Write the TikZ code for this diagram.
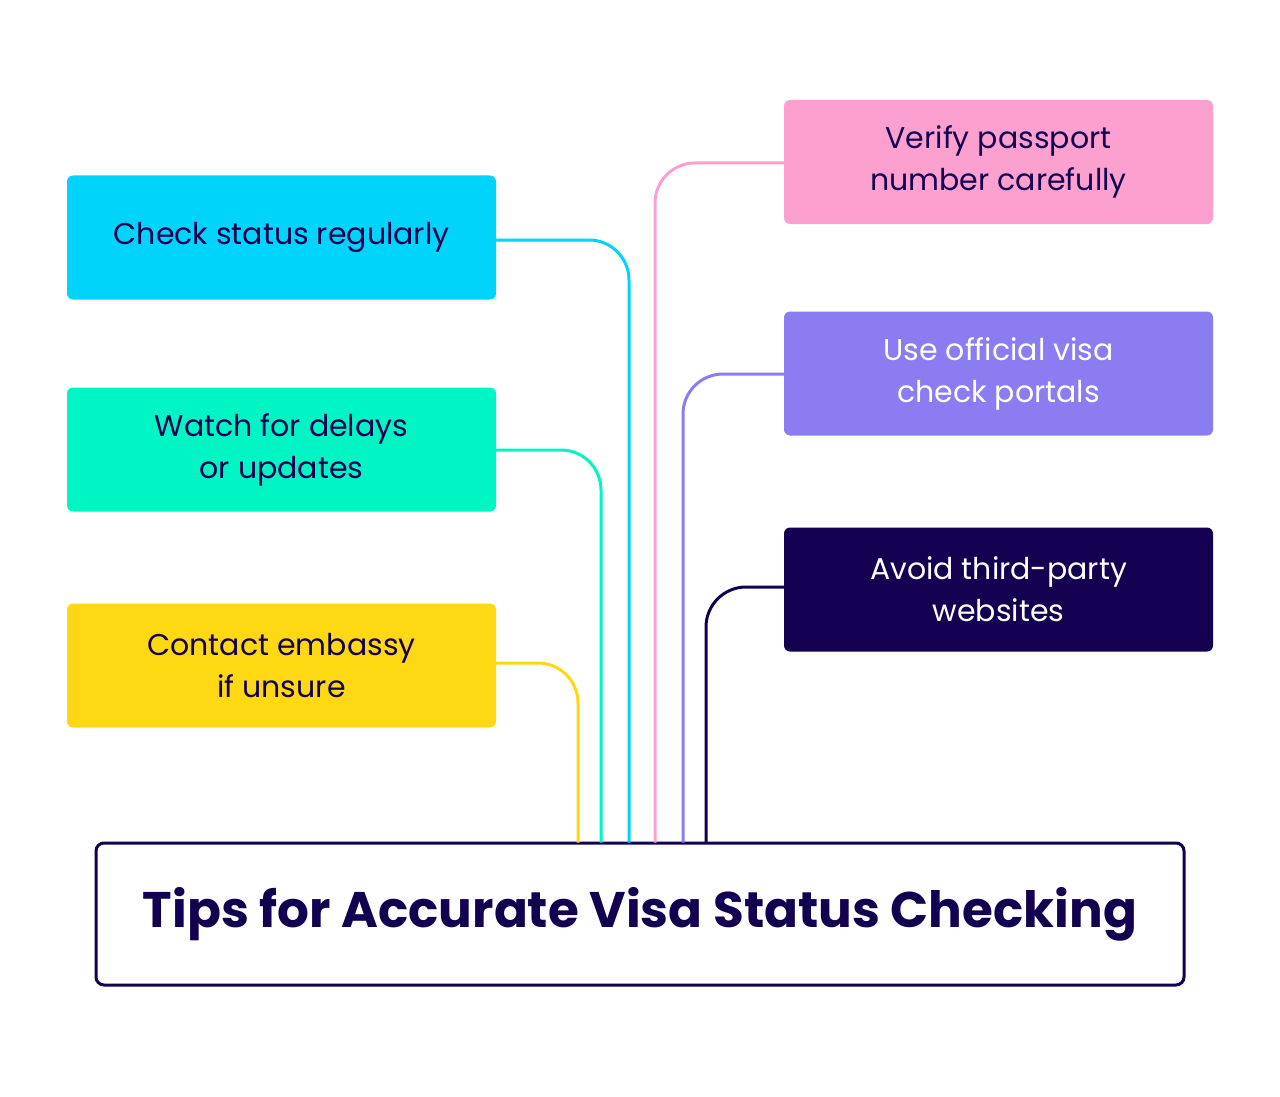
\documentclass[tikz,border=0pt]{standalone}
\usepackage{fontspec}
\setmainfont{Poppins}
\definecolor{navy}{HTML}{140050}
\definecolor{cy}{HTML}{00D4FA}
\definecolor{mint}{HTML}{00F5C4}
\definecolor{yel}{HTML}{FFD814}
\definecolor{pnk}{HTML}{FCA0D0}
\definecolor{pur}{HTML}{8A7DF2}
\begin{document}
\begin{tikzpicture}[x=1pt,y=-1pt,
  tip/.style={rounded corners=6pt,minimum width=429pt,minimum height=124pt,inner sep=0pt,align=center,font=\fontsize{30}{42}\selectfont,text=navy},
  link/.style={line width=3pt,rounded corners=40pt}]
\useasboundingbox (0,0) rectangle (1280,1097);
\node[tip,fill=cy] (a) at (281.5,237.5) {Check status regularly};
\node[tip,fill=mint] (b) at (281.5,449.5) {Watch for delays\\or updates};
\node[tip,fill=yel] (c) at (281.5,665.5) {Contact embassy\\if unsure};
\node[tip,fill=pnk] (d) at (998.5,162) {Verify passport\\number carefully};
\node[tip,fill=pur,text=white] (e) at (998.5,373.5) {Use official visa\\check portals};
\node[tip,fill=navy,text=white] (f) at (998.5,589.5) {Avoid third-party\\websites};
\node[draw=navy,line width=3pt,rounded corners=8pt,minimum width=1088pt,minimum height=142pt,font=\fontsize{50}{60}\selectfont\bfseries,text=navy] (m) at (640,914) {Tips for Accurate Visa Status Checking};
\coordinate (ea) at (629,842.5);
\coordinate (eb) at (601,842.5);
\coordinate (ec) at (578,842.5);
\coordinate (ed) at (655,842.5);
\coordinate (ee) at (683,842.5);
\coordinate (ef) at (706,842.5);
\draw[link,cy] (a.east|-0,240) -| (ea);
\draw[link,mint] (b.east|-0,450) -| (eb);
\draw[link,yel] (c.east|-0,663) -| (ec);
\draw[link,pnk] (d.west|-0,163) -| (ed);
\draw[link,pur] (e.west|-0,374) -| (ee);
\draw[link,navy] (f.west|-0,587) -| (ef);
\end{tikzpicture}
\end{document}
